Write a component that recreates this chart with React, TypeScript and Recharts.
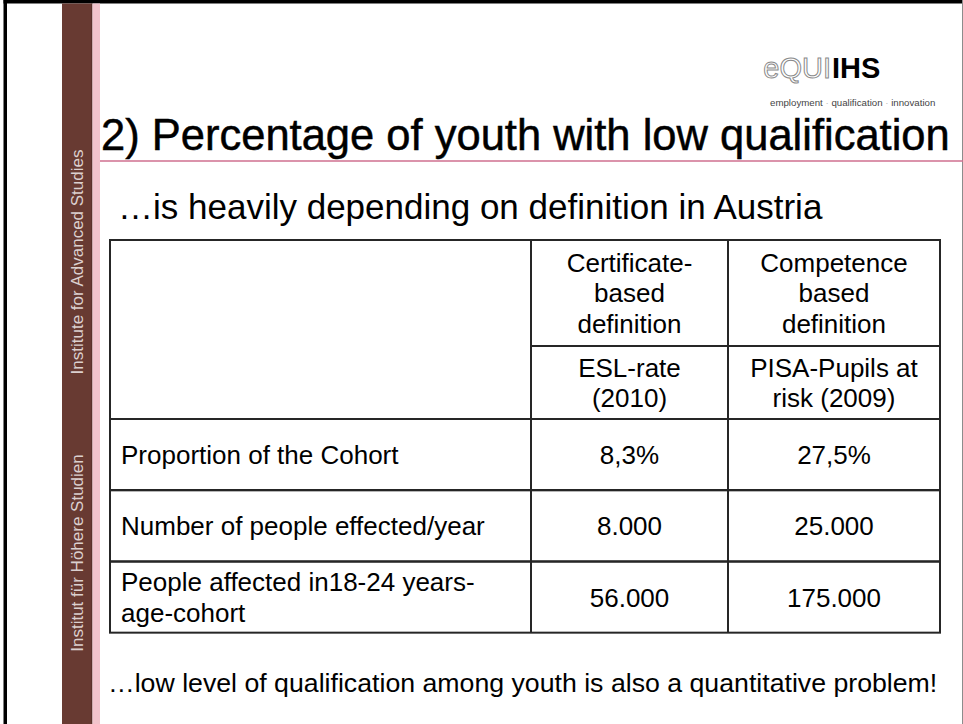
import React from 'react';
import { BarChart, Bar, XAxis, YAxis } from 'recharts';

// table content
const rowLabels = [
  ['Proportion of the Cohort'],
  ['Number of people effected/year'],
  ['People affected in18-24 years-', 'age-cohort'],
];
const eslValues = ['8,3%', '8.000', '56.000'];
const pisaValues = ['27,5%', '25.000', '175.000'];
const definitionHeaders = [
  ['Certificate-', 'based', 'definition'],
  ['Competence', 'based', 'definition'],
];
const indicatorHeaders = [
  ['ESL-rate', '(2010)'],
  ['PISA-Pupils at', 'risk (2009)'],
];

// slide text
const title = '2) Percentage of youth with low qualification';
const subtitle = '\u2026is heavily depending on definition in Austria';
const footnote = '\u2026low level of qualification among youth is also a quantitative problem!';
const sideLabels = ['Institute for Advanced Studies', 'Institut f\u00fcr H\u00f6here Studien'];
const taglineWords = ['employment', 'qualification', 'innovation'];

const W = 963;
const H = 724;
const FONT = '"Liberation Sans", Arial, sans-serif';
const LINE = '#262626';
const TEXT_SIZE = 26;
const LINE_H = 30.5;

const TABLE = { left: 110, right: 940, top: 240, split: 346, bodyTop: 419, bottom: 633 };
// column dividers as fractions of the table width
const COL_SPLIT = [(531 - 110) / 830, (728 - 110) / 830];

const rows = rowLabels.map((lines, i) => ({
  label: lines.join(' '),
  lines,
  esl: eslValues[i],
  pisa: pisaValues[i],
}));

const centeredLines = (lines: string[], cx: number, cy: number, anchor: 'middle' | 'start' = 'middle') => {
  const first = cy - ((lines.length - 1) * LINE_H) / 2 + TEXT_SIZE * 0.36;
  return lines.map((t, i) => (
    <text key={i} x={cx} y={first + i * LINE_H} textAnchor={anchor} fontSize={TEXT_SIZE} fontFamily={FONT} fill="#000">
      {t}
    </text>
  ));
};

const RowShape = (props: any) => {
  const { x, y, width, height, payload } = props;
  const s1 = x + width * COL_SPLIT[0];
  const s2 = x + width * COL_SPLIT[1];
  const cy = y + height / 2;
  return (
    <g>
      <rect x={x} y={y} width={width} height={height} fill="none" stroke={LINE} strokeWidth={2} />
      <line x1={s1} x2={s1} y1={y} y2={y + height} stroke={LINE} strokeWidth={2} />
      <line x1={s2} x2={s2} y1={y} y2={y + height} stroke={LINE} strokeWidth={2} />
      {centeredLines(payload.lines, x + 11, cy, 'start')}
      {centeredLines([payload.esl], (s1 + s2) / 2, cy)}
      {centeredLines([payload.pisa], (s2 + x + width) / 2, cy)}
    </g>
  );
};

const TableHeader = () => {
  const { left, right, top, split, bodyTop } = TABLE;
  const w = right - left;
  const s1 = left + w * COL_SPLIT[0];
  const s2 = left + w * COL_SPLIT[1];
  const centers = [(s1 + s2) / 2, (s2 + right) / 2];
  return (
    <g>
      <rect x={left} y={top} width={w} height={bodyTop - top} fill="none" stroke={LINE} strokeWidth={2} />
      <line x1={s1} x2={s1} y1={top} y2={bodyTop} stroke={LINE} strokeWidth={2} />
      <line x1={s2} x2={s2} y1={top} y2={bodyTop} stroke={LINE} strokeWidth={2} />
      <line x1={s1} x2={right} y1={split} y2={split} stroke={LINE} strokeWidth={2} />
      {definitionHeaders.map((lines, i) => (
        <g key={'d' + i}>{centeredLines(lines, centers[i], (top + split) / 2)}</g>
      ))}
      {indicatorHeaders.map((lines, i) => (
        <g key={'i' + i}>{centeredLines(lines, centers[i], (split + bodyTop) / 2)}</g>
      ))}
    </g>
  );
};

const SlideFrame = () => (
  <g>
    {/* outer frame */}
    <rect x={3.5} y={0} width={3.5} height={H} fill="#000" />
    <rect x={3.5} y={0} width={W - 3.5} height={3.5} fill="#000" />
    <line x1={962.5} x2={962.5} y1={0} y2={H} stroke="#8c8c8c" strokeWidth={1} />
    {/* side band */}
    <rect x={62} y={3.5} width={30} height={H} fill="#683a32" />
    <line x1={92} x2={92} y1={3.5} y2={H} stroke="#4e2a24" strokeWidth={1} />
    <rect x={92.5} y={3.5} width={7.5} height={H} fill="#f2c4cc" />
    {sideLabels.map((t, i) => {
      const cy = i === 0 ? 262 : 553;
      return (
        <text key={t} x={83} y={cy} transform={`rotate(-90, 83, ${cy})`} textAnchor="middle" fontSize={17} fontFamily={FONT} fill="#dcd0cf">
          {t}
        </text>
      );
    })}
    {/* logo */}
    <text x={831} y={78} textAnchor="end" fontSize={29} fontFamily={FONT} fill="#fff" stroke="#8a8a8a" strokeWidth={1}>
      eQUI
    </text>
    <text x={832} y={78} fontSize={29} fontWeight="bold" fontFamily={FONT} fill="#000">
      IHS
    </text>
    <text x={770} y={106} fontSize={9.7} fontFamily={FONT} fill="#444">
      {taglineWords.map((w, i) => (
        <tspan key={w}>
          {i > 0 && <tspan fill="#bbb">{' \u00b7 '}</tspan>}
          {w}
        </tspan>
      ))}
    </text>
    {/* title */}
    <text x={101} y={150} fontSize={43.5} fontFamily={FONT} fill="#000" stroke="#000" strokeWidth={0.5}>
      {title}
    </text>
    <line x1={100} x2={W} y1={161} y2={161} stroke="#cf6f8f" strokeWidth={1.5} />
    <text x={118} y={219} fontSize={35} fontFamily={FONT} fill="#000">
      {subtitle}
    </text>
    <text x={108} y={692} fontSize={26.7} fontFamily={FONT} fill="#000">
      {footnote}
    </text>
  </g>
);

export default function App() {
  return (
    <div style={{ position: 'absolute', left: 0, top: 0, width: W, height: H, background: '#fff' }}>
      <BarChart
        width={W}
        height={H}
        data={rows}
        layout="vertical"
        barCategoryGap={0}
        margin={{ top: TABLE.bodyTop, bottom: H - TABLE.bottom, left: TABLE.left, right: W - TABLE.right }}
      >
        <XAxis type="number" hide domain={[0, 1]} />
        <YAxis type="category" dataKey="label" hide />
        <Bar dataKey={() => 1} shape={RowShape} isAnimationActive={false} />
        <SlideFrame />
        <TableHeader />
      </BarChart>
    </div>
  );
}
